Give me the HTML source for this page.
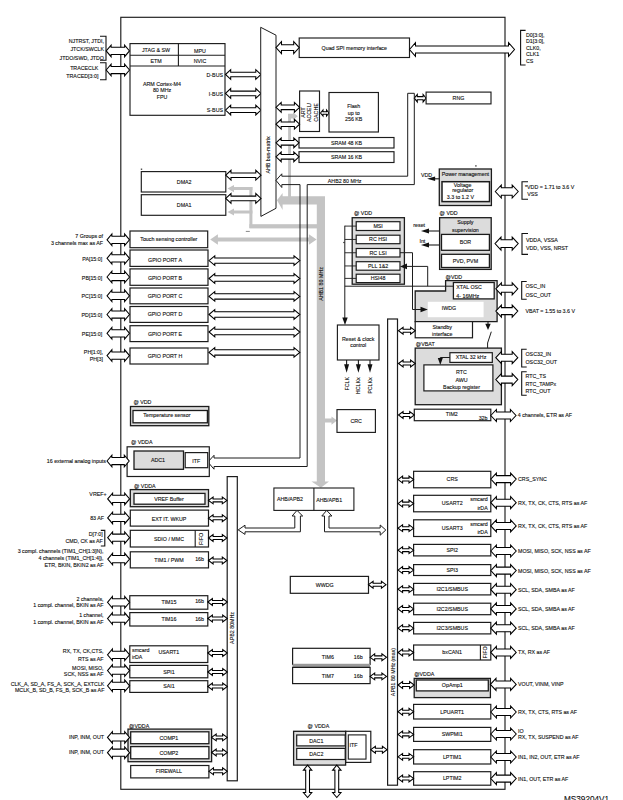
<!DOCTYPE html>
<html><head><meta charset="utf-8"><style>
html,body{margin:0;padding:0;background:#fff;width:623px;height:800px;overflow:hidden}
svg{display:block}
text{font-family:"Liberation Sans",sans-serif;stroke:#111;stroke-width:0.12px}
</style></head><body>
<svg width="623" height="800" viewBox="0 0 623 800">
<rect x="288.1" y="114" width="2.9" height="83" fill="#c4c4c4"/>
<polygon points="288.1,113.8 293,113.8 293,112.3 297.8,116.2 293,120.1 293,118.6 288.1,118.6" fill="#c4c4c4"  stroke-linejoin="miter"/>
<polygon points="277,200.3 282.6,193.1 282.6,196.3 325,196.3 325,481.6 329,481.6 320.9,487.8 311.5,481.6 316.8,481.6 316.8,204.4 282.6,204.4 282.6,210" fill="#c4c4c4"  stroke-linejoin="miter"/>
<rect x="249.4" y="187" width="3" height="41" fill="#c4c4c4"/>
<rect x="249.4" y="224.2" width="67.6" height="4.2" fill="#c4c4c4"/>
<polygon points="227.5,188.6 234,185 234,187.1 252.4,187.1 252.4,190.1 234,190.1 234,192.2" fill="#c4c4c4"  stroke-linejoin="miter"/>
<polygon points="227.5,212 234,208.4 234,210.5 252.4,210.5 252.4,213.5 234,213.5 234,215.6" fill="#c4c4c4"  stroke-linejoin="miter"/>
<polygon points="210.2,239.5 217.9,234.2 217.9,237.5 308.9,237.5 308.9,234.2 316.6,239.5 308.9,244.8 308.9,241.5 217.9,241.5 217.9,244.8" fill="#c4c4c4"  stroke-linejoin="miter"/>
<polygon points="325,418.6 331.5,418.6 331.5,416.4 337,420.6 331.5,424.8 331.5,422.6 325,422.6" fill="#c4c4c4"  stroke-linejoin="miter"/>
<rect x="120.8" y="17.3" width="384.2" height="772" fill="none" stroke="#1c1c1c" stroke-width="1.15"/>
<rect x="130" y="43.6" width="95" height="71.7" fill="#fff" stroke="#1c1c1c" stroke-width="1.15"/>
<line x1="130" y1="55.3" x2="225" y2="55.3" stroke="#1c1c1c" stroke-width="1.1"/>
<line x1="130" y1="66" x2="225" y2="66" stroke="#1c1c1c" stroke-width="1.1"/>
<line x1="178.4" y1="43.6" x2="178.4" y2="66" stroke="#1c1c1c" stroke-width="1.1"/>
<text x="156" y="51.91" text-anchor="middle" font-size="5.3" fill="#111">JTAG &amp; SW</text>
<text x="200" y="52.91" text-anchor="middle" font-size="5.3" fill="#111">MPU</text>
<text x="156" y="62.71" text-anchor="middle" font-size="5.3" fill="#111">ETM</text>
<text x="200" y="62.71" text-anchor="middle" font-size="5.3" fill="#111">NVIC</text>
<text x="162" y="85.91" text-anchor="middle" font-size="5.3" fill="#111">ARM Cortex-M4</text>
<text x="162" y="92.11" text-anchor="middle" font-size="5.3" fill="#111">80 MHz</text>
<text x="162" y="98.51" text-anchor="middle" font-size="5.3" fill="#111">FPU</text>
<text x="223" y="76.61" text-anchor="end" font-size="5.3" fill="#111">D-BUS</text>
<text x="223" y="95.81" text-anchor="end" font-size="5.3" fill="#111">I-BUS</text>
<text x="223" y="111.51" text-anchor="end" font-size="5.3" fill="#111">S-BUS</text>
<polygon points="225.5,74.5 230.7,69.6 230.7,72.2 255.8,72.2 255.8,69.6 261,74.5 255.8,79.4 255.8,76.8 230.7,76.8 230.7,79.4" fill="#fff" stroke="#000" stroke-width="1.05" stroke-linejoin="miter"/>
<polygon points="225.5,93.4 230.7,88.5 230.7,91.1 255.8,91.1 255.8,88.5 261,93.4 255.8,98.3 255.8,95.7 230.7,95.7 230.7,98.3" fill="#fff" stroke="#000" stroke-width="1.05" stroke-linejoin="miter"/>
<polygon points="225.5,110.1 230.7,105.2 230.7,107.8 255.8,107.8 255.8,105.2 261,110.1 255.8,115 255.8,112.4 230.7,112.4 230.7,115" fill="#fff" stroke="#000" stroke-width="1.05" stroke-linejoin="miter"/>
<polyline points="100,36.2 106,36.2 106,60.2 100,60.2" fill="none" stroke="#111" stroke-width="1.1" stroke-linejoin="miter"/>
<polyline points="100,62.8 106,62.8 106,79.8 100,79.8" fill="none" stroke="#111" stroke-width="1.1" stroke-linejoin="miter"/>
<text x="104" y="43.01" text-anchor="end" font-size="5.3" fill="#111">NJTRST, JTDI,</text>
<text x="104" y="51.21" text-anchor="end" font-size="5.3" fill="#111">JTCK/SWCLK</text>
<text x="104" y="59.61" text-anchor="end" font-size="5.3" fill="#111">JTDO/SWD, JTDO</text>
<text x="98.4" y="69.61" text-anchor="end" font-size="5.3" fill="#111">TRACECLK</text>
<text x="98.4" y="77.71" text-anchor="end" font-size="5.3" fill="#111">TRACED[3:0]</text>
<polygon points="106.2,50.9 111.1,45.1 111.1,47.3 124.6,47.3 124.6,45.1 129.5,50.9 124.6,56.7 124.6,54.5 111.1,54.5 111.1,56.7" fill="#fff" stroke="#000" stroke-width="1.05" stroke-linejoin="miter"/>
<polygon points="106.2,70 111.1,64.2 111.1,66.4 124.6,66.4 124.6,64.2 129.5,70 124.6,75.8 124.6,73.6 111.1,73.6 111.1,75.8" fill="#fff" stroke="#000" stroke-width="1.05" stroke-linejoin="miter"/>
<polygon points="260.7,27.3 276,35.2 276,208.3 260.9,216.4" fill="#fff" stroke="#1c1c1c" stroke-width="1" stroke-linejoin="miter"/>
<text transform="translate(268.4,155) rotate(-90)" x="0" y="1.91" text-anchor="middle" font-size="5.3" fill="#111">AHB bus-matrix</text>
<rect x="299.2" y="38" width="110.3" height="19.5" fill="#fff" stroke="#1c1c1c" stroke-width="1.15"/>
<text x="354.3" y="49.61" text-anchor="middle" font-size="5.3" fill="#111">Quad SPI memory interface</text>
<polygon points="276,47.6 281.5,41.6 281.5,44.8 293.7,44.8 293.7,41.6 299.2,47.6 293.7,53.6 293.7,50.4 281.5,50.4 281.5,53.6" fill="#fff" stroke="#000" stroke-width="1.05" stroke-linejoin="miter"/>
<polygon points="409.5,49.5 415.5,42.7 415.5,46 508.5,46 508.5,42.7 514.5,49.5 508.5,56.3 508.5,53 415.5,53 415.5,56.3" fill="#fff" stroke="#000" stroke-width="1.05" stroke-linejoin="miter"/>
<polyline points="525.6,30.4 520.6,30.4 520.6,65 525.6,65" fill="none" stroke="#111" stroke-width="1.1" stroke-linejoin="miter"/>
<text x="526" y="36.61" text-anchor="start" font-size="5.3" fill="#111">D0[3:0],</text>
<text x="526" y="42.51" text-anchor="start" font-size="5.3" fill="#111">D1[3:0],</text>
<text x="526" y="49.51" text-anchor="start" font-size="5.3" fill="#111">CLK0,</text>
<text x="526" y="55.61" text-anchor="start" font-size="5.3" fill="#111">CLK1</text>
<text x="526" y="62.71" text-anchor="start" font-size="5.3" fill="#111">CS</text>
<rect x="299.6" y="91" width="19.9" height="40.5" fill="#fff" stroke="#1c1c1c" stroke-width="1.15"/>
<text transform="translate(303.2,112.5) rotate(-90)" x="0" y="1.91" text-anchor="middle" font-size="5.3" fill="#111">ART</text>
<text transform="translate(309.5,112.5) rotate(-90)" x="0" y="1.91" text-anchor="middle" font-size="5.3" fill="#111">ACCEL/</text>
<text transform="translate(315.6,112.5) rotate(-90)" x="0" y="1.91" text-anchor="middle" font-size="5.3" fill="#111">CACHE</text>
<polygon points="276,107.3 281.2,102.4 281.2,105 294.4,105 294.4,102.4 299.6,107.3 294.4,112.2 294.4,109.6 281.2,109.6 281.2,112.2" fill="#fff" stroke="#000" stroke-width="1.05" stroke-linejoin="miter"/>
<polygon points="276,124.2 281.2,119.3 281.2,121.9 294.4,121.9 294.4,119.3 299.6,124.2 294.4,129.1 294.4,126.5 281.2,126.5 281.2,129.1" fill="#fff" stroke="#000" stroke-width="1.05" stroke-linejoin="miter"/>
<polygon points="320.5,113 323,110 323,111.7 326.5,111.7 326.5,110 329,113 326.5,116 326.5,114.3 323,114.3 323,116" fill="#fff" stroke="#000" stroke-width="1.05" stroke-linejoin="miter"/>
<rect x="329" y="92.5" width="49.4" height="39.5" fill="#fff" stroke="#1c1c1c" stroke-width="1.15"/>
<text x="353.7" y="107.91" text-anchor="middle" font-size="5.3" fill="#111">Flash</text>
<text x="353.7" y="114.71" text-anchor="middle" font-size="5.3" fill="#111">up to</text>
<text x="353.7" y="120.61" text-anchor="middle" font-size="5.3" fill="#111">256 KB</text>
<rect x="299" y="137.5" width="95" height="10.5" fill="#fff" stroke="#1c1c1c" stroke-width="1.15"/>
<text x="346.5" y="144.71" text-anchor="middle" font-size="5.3" fill="#111">SRAM 48 KB</text>
<polygon points="276,142.8 281.2,137.9 281.2,140.5 293.8,140.5 293.8,137.9 299,142.8 293.8,147.7 293.8,145.1 281.2,145.1 281.2,147.7" fill="#fff" stroke="#000" stroke-width="1.05" stroke-linejoin="miter"/>
<rect x="299" y="151.7" width="95" height="10.8" fill="#fff" stroke="#1c1c1c" stroke-width="1.15"/>
<text x="346.5" y="158.91" text-anchor="middle" font-size="5.3" fill="#111">SRAM 16 KB</text>
<polygon points="276,156.8 281.2,151.9 281.2,154.5 293.8,154.5 293.8,151.9 299,156.8 293.8,161.7 293.8,159.1 281.2,159.1 281.2,161.7" fill="#fff" stroke="#000" stroke-width="1.05" stroke-linejoin="miter"/>
<polygon points="414.3,98.2 417.3,94.5 417.3,96.6 423.1,96.6 423.1,94.5 426.1,98.2 423.1,101.9 423.1,99.8 417.3,99.8 417.3,101.9" fill="#fff" stroke="#000" stroke-width="1.05" stroke-linejoin="miter"/>
<rect x="426.1" y="92.1" width="64.9" height="11.8" fill="#fff" stroke="#1c1c1c" stroke-width="1.15"/>
<text x="458.5" y="99.91" text-anchor="middle" font-size="5.3" fill="#111">RNG</text>
<polygon points="281.8,176.2 407.7,176.2 407.7,93.3 414.3,93.3 414.3,184.6 307.2,184.6 307.2,466.5 214,466.5 214,469.2 207.9,462 214,455.3 214,458 300,458 300,184.6 281.8,184.6 281.8,187.5 276,180.4 281.8,173.8" fill="none" stroke="#1c1c1c" stroke-width="1" stroke-linejoin="miter"/>
<text x="344.6" y="182.51" text-anchor="middle" font-size="5.3" fill="#111">AHB2 80 MHz</text>
<rect x="141.3" y="171.6" width="84.5" height="20.4" fill="#fff" stroke="#1c1c1c" stroke-width="1.15"/>
<text x="184.2" y="184.01" text-anchor="middle" font-size="5.3" fill="#111">DMA2</text>
<polygon points="225.8,175.2 231,170.3 231,172.9 255.8,172.9 255.8,170.3 261,175.2 255.8,180.1 255.8,177.5 231,177.5 231,180.1" fill="#fff" stroke="#000" stroke-width="1.05" stroke-linejoin="miter"/>
<rect x="141.3" y="194.7" width="84.5" height="20.6" fill="#fff" stroke="#1c1c1c" stroke-width="1.15"/>
<text x="184.2" y="206.91" text-anchor="middle" font-size="5.3" fill="#111">DMA1</text>
<polygon points="225.8,198.4 231,193.5 231,196.1 255.8,196.1 255.8,193.5 261,198.4 255.8,203.3 255.8,200.7 231,200.7 231,203.3" fill="#fff" stroke="#000" stroke-width="1.05" stroke-linejoin="miter"/>
<rect x="439.3" y="169" width="52.1" height="36.5" fill="#dcdcdc" stroke="#1c1c1c" stroke-width="1.3"/>
<text x="465.4" y="176.41" text-anchor="middle" font-size="5.3" fill="#111">Power management</text>
<rect x="442" y="181.7" width="47.5" height="19.9" fill="#fff" stroke="#1c1c1c" stroke-width="1.5"/>
<text x="462.7" y="187.31" text-anchor="middle" font-size="5.3" fill="#111">Voltage</text>
<text x="462.7" y="192.21" text-anchor="middle" font-size="5.3" fill="#111">regulator</text>
<text x="460.4" y="199.21" text-anchor="middle" font-size="5.3" fill="#111">3.3 to 1.2 V</text>
<line x1="439.3" y1="178.8" x2="434" y2="178.8" stroke="#1c1c1c" stroke-width="1.1"/>
<polygon points="427.1,178.8 435.1,176.6 435.1,181" fill="#111"  stroke-linejoin="miter"/>
<text x="426.6" y="176.81" text-anchor="middle" font-size="5.3" fill="#111">VDD</text>
<polygon points="495.3,191.5 501.3,185 501.3,187.7 512.2,187.7 512.2,185 518.2,191.5 512.2,198 512.2,195.3 501.3,195.3 501.3,198" fill="#fff" stroke="#000" stroke-width="1.05" stroke-linejoin="miter"/>
<polyline points="528,181.8 522,181.8 522,199.3 528,199.3" fill="none" stroke="#111" stroke-width="1.1" stroke-linejoin="miter"/>
<text x="525" y="189.31" text-anchor="start" font-size="5.3" fill="#111">*VDD = 1.71 to 3.6 V</text>
<text x="527.2" y="196.11" text-anchor="start" font-size="5.3" fill="#111">VSS</text>
<text x="439.6" y="215.11" text-anchor="start" font-size="5.3" fill="#111">@ VDD</text>
<rect x="439.6" y="217.7" width="51.6" height="51.7" fill="#dcdcdc" stroke="#1c1c1c" stroke-width="1.3"/>
<text x="465.4" y="224.41" text-anchor="middle" font-size="5.3" fill="#111">Supply</text>
<text x="465.4" y="231.91" text-anchor="middle" font-size="5.3" fill="#111">supervision</text>
<rect x="441.5" y="234.4" width="47.9" height="15.9" fill="#fff" stroke="#1c1c1c" stroke-width="1.3"/>
<text x="465.4" y="244.21" text-anchor="middle" font-size="5.3" fill="#111">BOR</text>
<rect x="441.5" y="254.3" width="47.9" height="13.2" fill="#fff" stroke="#1c1c1c" stroke-width="1.3"/>
<text x="465.4" y="262.81" text-anchor="middle" font-size="5.3" fill="#111">PVD, PVM</text>
<line x1="439.6" y1="231" x2="428" y2="231" stroke="#1c1c1c" stroke-width="1.1"/>
<polygon points="421,231 429,228.4 429,233.6" fill="#111"  stroke-linejoin="miter"/>
<text x="419.2" y="227.11" text-anchor="middle" font-size="5.3" fill="#111">reset</text>
<line x1="439.6" y1="245" x2="428" y2="245" stroke="#1c1c1c" stroke-width="1.1"/>
<polygon points="421,245 429,242.4 429,247.6" fill="#111"  stroke-linejoin="miter"/>
<text x="422.4" y="242.91" text-anchor="middle" font-size="5.3" fill="#111">Int</text>
<polygon points="495,243.6 501,237.1 501,239.8 512.2,239.8 512.2,237.1 518.2,243.6 512.2,250.1 512.2,247.4 501,247.4 501,250.1" fill="#fff" stroke="#000" stroke-width="1.05" stroke-linejoin="miter"/>
<polyline points="528,233.5 522,233.5 522,254.4 528,254.4" fill="none" stroke="#111" stroke-width="1.1" stroke-linejoin="miter"/>
<text x="526" y="242.11" text-anchor="start" font-size="5.3" fill="#111">VDDA, VSSA</text>
<text x="526" y="249.51" text-anchor="start" font-size="5.3" fill="#111">VDD, VSS, NRST</text>
<text x="354" y="215.11" text-anchor="start" font-size="5.3" fill="#111">@ VDD</text>
<rect x="352.2" y="217.7" width="52.2" height="66.5" fill="#dcdcdc" stroke="#1c1c1c" stroke-width="1.3"/>
<rect x="356.2" y="221.7" width="43.8" height="8.8" fill="#fff" stroke="#1c1c1c" stroke-width="1.2"/>
<text x="378.1" y="228.01" text-anchor="middle" font-size="5.3" fill="#111">MSI</text>
<line x1="344.8" y1="226.1" x2="356.2" y2="226.1" stroke="#1c1c1c" stroke-width="0.9"/>
<rect x="356.2" y="235.2" width="43.8" height="8.5" fill="#fff" stroke="#1c1c1c" stroke-width="1.2"/>
<text x="378.1" y="241.36" text-anchor="middle" font-size="5.3" fill="#111">RC HSI</text>
<line x1="344.8" y1="239.45" x2="356.2" y2="239.45" stroke="#1c1c1c" stroke-width="0.9"/>
<rect x="356.2" y="248.5" width="43.8" height="8.5" fill="#fff" stroke="#1c1c1c" stroke-width="1.2"/>
<text x="378.1" y="254.66" text-anchor="middle" font-size="5.3" fill="#111">RC LSI</text>
<line x1="344.8" y1="252.75" x2="356.2" y2="252.75" stroke="#1c1c1c" stroke-width="0.9"/>
<rect x="356.2" y="261.7" width="43.8" height="8.5" fill="#fff" stroke="#1c1c1c" stroke-width="1.2"/>
<text x="378.1" y="267.86" text-anchor="middle" font-size="5.3" fill="#111">PLL 1&amp;2</text>
<line x1="344.8" y1="265.95" x2="356.2" y2="265.95" stroke="#1c1c1c" stroke-width="0.9"/>
<rect x="356.2" y="274.2" width="43.8" height="8.4" fill="#fff" stroke="#1c1c1c" stroke-width="1.2"/>
<text x="378.1" y="280.31" text-anchor="middle" font-size="5.3" fill="#111">HSI48</text>
<line x1="344.8" y1="278.4" x2="356.2" y2="278.4" stroke="#1c1c1c" stroke-width="0.9"/>
<text x="445.5" y="278.91" text-anchor="start" font-size="5.3" fill="#111">@VDD</text>
<polygon points="445.6,280.6 497.1,280.6 497.1,321.6 415.2,321.6 415.2,291 445.6,291" fill="#dcdcdc" stroke="#1c1c1c" stroke-width="1.3" stroke-linejoin="miter"/>
<rect x="453.4" y="282.5" width="40.8" height="16.4" fill="#fff" stroke="#1c1c1c" stroke-width="1.3"/>
<text x="456.3" y="288.91" text-anchor="start" font-size="5.3" fill="#111">XTAL OSC</text>
<text x="456.3" y="297.51" text-anchor="start" font-size="5.3" fill="#111">4- 16MHz</text>
<rect x="427.8" y="301.8" width="55.8" height="15.4" fill="#fff"/>
<text x="449" y="309.51" text-anchor="middle" font-size="5.3" fill="#111">IWDG</text>
<line x1="344.8" y1="225.7" x2="344.8" y2="319" stroke="#1c1c1c" stroke-width="1"/>
<polygon points="345,325 342.3,317.5 347.7,317.5" fill="#111"  stroke-linejoin="miter"/>
<line x1="344.8" y1="286.2" x2="453.4" y2="286.2" stroke="#1c1c1c" stroke-width="1"/>
<polyline points="400,252.7 412.5,252.7 412.5,309.5 421,309.5" fill="none" stroke="#1c1c1c" stroke-width="1" stroke-linejoin="miter"/>
<polygon points="427.8,309.5 420.5,306.8 420.5,312.2" fill="#111"  stroke-linejoin="miter"/>
<polyline points="405,266.4 427.7,266.4 427.7,286.2" fill="none" stroke="#1c1c1c" stroke-width="1" stroke-linejoin="miter"/>
<polygon points="400,266.4 407,263.6 407,269.2" fill="#111"  stroke-linejoin="miter"/>
<polygon points="495.8,288.8 501.4,282.8 501.4,285.3 512.2,285.3 512.2,282.8 517.8,288.8 512.2,294.8 512.2,292.3 501.4,292.3 501.4,294.8" fill="#fff" stroke="#000" stroke-width="1.05" stroke-linejoin="miter"/>
<polyline points="526.7,281.5 521.7,281.5 521.7,299.2 526.7,299.2" fill="none" stroke="#111" stroke-width="1.1" stroke-linejoin="miter"/>
<text x="525.5" y="287.91" text-anchor="start" font-size="5.3" fill="#111">OSC_IN</text>
<text x="525.5" y="296.91" text-anchor="start" font-size="5.3" fill="#111">OSC_OUT</text>
<polygon points="495.8,311.1 501.4,305.1 501.4,307.6 512.2,307.6 512.2,305.1 517.8,311.1 512.2,317.1 512.2,314.6 501.4,314.6 501.4,317.1" fill="#fff" stroke="#000" stroke-width="1.05" stroke-linejoin="miter"/>
<text x="525.5" y="313.01" text-anchor="start" font-size="5.3" fill="#111">VBAT = 1.55 to 3.6 V</text>
<rect x="415.2" y="321.6" width="57.3" height="16.2" fill="#fff" stroke="#1c1c1c" stroke-width="1.2"/>
<text x="442.2" y="328.71" text-anchor="middle" font-size="5.3" fill="#111">Standby</text>
<text x="442.2" y="336.41" text-anchor="middle" font-size="5.3" fill="#111">interface</text>
<polygon points="398.5,330.7 403.1,327.3 403.1,329.25 410.6,329.25 410.6,327.3 415.2,330.7 410.6,334.1 410.6,332.15 403.1,332.15 403.1,334.1" fill="#fff" stroke="#000" stroke-width="1.05" stroke-linejoin="miter"/>
<line x1="488" y1="321.6" x2="488" y2="325" stroke="#1c1c1c" stroke-width="1.1"/>
<polygon points="488,330 485.3,323.8 490.7,323.8" fill="#111"  stroke-linejoin="miter"/>
<line x1="491.3" y1="331.7" x2="487.6" y2="343" stroke="#1c1c1c" stroke-width="1"/>
<line x1="487.6" y1="343" x2="487.6" y2="348.1" stroke="#1c1c1c" stroke-width="1"/>
<text x="415.8" y="345.51" text-anchor="start" font-size="5.3" fill="#111">@VBAT</text>
<rect x="415.2" y="348.1" width="86.2" height="56.6" fill="#dcdcdc" stroke="#1c1c1c" stroke-width="1.3"/>
<rect x="449.9" y="352.7" width="42.4" height="9.7" fill="#fff" stroke="#1c1c1c" stroke-width="1.2"/>
<text x="471" y="359.41" text-anchor="middle" font-size="5.3" fill="#111">XTAL 32 kHz</text>
<polyline points="449.9,357.5 440.3,357.5 440.3,359" fill="none" stroke="#1c1c1c" stroke-width="1" stroke-linejoin="miter"/>
<polygon points="440.3,365 437.8,358 442.8,358" fill="#111"  stroke-linejoin="miter"/>
<rect x="423.9" y="364.9" width="69" height="26" fill="#fff" stroke="#1c1c1c" stroke-width="1.2"/>
<text x="461.5" y="373.51" text-anchor="middle" font-size="5.3" fill="#111">RTC</text>
<text x="461.5" y="381.61" text-anchor="middle" font-size="5.3" fill="#111">AWU</text>
<text x="461.5" y="388.51" text-anchor="middle" font-size="5.3" fill="#111">Backup register</text>
<polygon points="398.5,363.5 403.1,360.1 403.1,362.05 410.6,362.05 410.6,360.1 415.2,363.5 410.6,366.9 410.6,364.95 403.1,364.95 403.1,366.9" fill="#fff" stroke="#000" stroke-width="1.05" stroke-linejoin="miter"/>
<polygon points="495.8,357.7 501.4,351.7 501.4,354.2 512.2,354.2 512.2,351.7 517.8,357.7 512.2,363.7 512.2,361.2 501.4,361.2 501.4,363.7" fill="#fff" stroke="#000" stroke-width="1.05" stroke-linejoin="miter"/>
<polyline points="526.7,349.3 521.7,349.3 521.7,367 526.7,367" fill="none" stroke="#111" stroke-width="1.1" stroke-linejoin="miter"/>
<text x="525.5" y="355.81" text-anchor="start" font-size="5.3" fill="#111">OSC32_IN</text>
<text x="525.5" y="364.41" text-anchor="start" font-size="5.3" fill="#111">OSC32_OUT</text>
<polygon points="495.8,379.6 501.4,373.6 501.4,376.1 512.2,376.1 512.2,373.6 517.8,379.6 512.2,385.6 512.2,383.1 501.4,383.1 501.4,385.6" fill="#fff" stroke="#000" stroke-width="1.05" stroke-linejoin="miter"/>
<polyline points="526.7,371.7 521.7,371.7 521.7,395.3 526.7,395.3" fill="none" stroke="#111" stroke-width="1.1" stroke-linejoin="miter"/>
<text x="525.5" y="377.71" text-anchor="start" font-size="5.3" fill="#111">RTC_TS</text>
<text x="525.5" y="385.71" text-anchor="start" font-size="5.3" fill="#111">RTC_TAMPx</text>
<text x="525.5" y="393.41" text-anchor="start" font-size="5.3" fill="#111">RTC_OUT</text>
<rect x="414.3" y="409.2" width="76.5" height="11.5" fill="#fff" stroke="#1c1c1c" stroke-width="1.2"/>
<text x="451.8" y="415.91" text-anchor="middle" font-size="5.3" fill="#111">TIM2</text>
<text x="487.5" y="419.81" text-anchor="end" font-size="5.3" fill="#111">32b</text>
<polygon points="398.5,415 403.1,411.6 403.1,413.55 409.7,413.55 409.7,411.6 414.3,415 409.7,418.4 409.7,416.45 403.1,416.45 403.1,418.4" fill="#fff" stroke="#000" stroke-width="1.05" stroke-linejoin="miter"/>
<polygon points="490.8,415.5 496.4,409.5 496.4,412 510.4,412 510.4,409.5 516,415.5 510.4,421.5 510.4,419 496.4,419 496.4,421.5" fill="#fff" stroke="#000" stroke-width="1.05" stroke-linejoin="miter"/>
<text x="517.8" y="417.41" text-anchor="start" font-size="5.3" fill="#111">4 channels, ETR as AF</text>
<rect x="337.4" y="325" width="41.6" height="35" fill="#fff" stroke="#1c1c1c" stroke-width="1.15"/>
<text x="358.2" y="340.91" text-anchor="middle" font-size="5.3" fill="#111">Reset &amp; clock</text>
<text x="358.2" y="346.91" text-anchor="middle" font-size="5.3" fill="#111">control</text>
<line x1="346.6" y1="360" x2="346.6" y2="365" stroke="#1c1c1c" stroke-width="1.1"/>
<polygon points="346.6,372.8 344.1,364.3 349.1,364.3" fill="#111"  stroke-linejoin="miter"/>
<text transform="translate(346.6,383.8) rotate(-90)" x="0" y="1.91" text-anchor="middle" font-size="5.3" fill="#111">FCLK</text>
<line x1="358.4" y1="360" x2="358.4" y2="365" stroke="#1c1c1c" stroke-width="1.1"/>
<polygon points="358.4,372.8 355.9,364.3 360.9,364.3" fill="#111"  stroke-linejoin="miter"/>
<text transform="translate(358.4,385.8) rotate(-90)" x="0" y="1.91" text-anchor="middle" font-size="5.3" fill="#111">HCLKx</text>
<line x1="370" y1="360" x2="370" y2="365" stroke="#1c1c1c" stroke-width="1.1"/>
<polygon points="370,372.8 367.5,364.3 372.5,364.3" fill="#111"  stroke-linejoin="miter"/>
<text transform="translate(370,385.5) rotate(-90)" x="0" y="1.91" text-anchor="middle" font-size="5.3" fill="#111">PCLKx</text>
<rect x="337" y="409.6" width="38.4" height="22.8" fill="#fff" stroke="#1c1c1c" stroke-width="1.15"/>
<text x="356.2" y="422.91" text-anchor="middle" font-size="5.3" fill="#111">CRC</text>
<text transform="translate(321,284) rotate(-90)" x="0" y="1.91" text-anchor="middle" font-size="5.3" fill="#111">AHB1 80 MHz</text>
<rect x="387.6" y="319" width="9.9" height="466.2" fill="#fff" stroke="#1c1c1c" stroke-width="1.2"/>
<text transform="translate(392.7,672) rotate(-90)" x="0" y="1.91" text-anchor="middle" font-size="5.3" fill="#111">APB1 80 MHz (max)</text>
<rect x="413.6" y="471.3" width="77.2" height="16.5" fill="#fff" stroke="#1c1c1c" stroke-width="1.2"/>
<text x="452.2" y="481.46" text-anchor="middle" font-size="5.3" fill="#111">CRS</text>
<polygon points="398,479.55 402.6,476.15 402.6,478.1 409,478.1 409,476.15 413.6,479.55 409,482.95 409,481 402.6,481 402.6,482.95" fill="#fff" stroke="#000" stroke-width="1.05" stroke-linejoin="miter"/>
<polygon points="490.8,479.1 496.4,473.1 496.4,475.6 510.6,475.6 510.6,473.1 516.2,479.1 510.6,485.1 510.6,482.6 496.4,482.6 496.4,485.1" fill="#fff" stroke="#000" stroke-width="1.05" stroke-linejoin="miter"/>
<text x="518" y="481.01" text-anchor="start" font-size="5.3" fill="#111">CRS_SYNC</text>
<rect x="413.6" y="495.3" width="77.2" height="16.5" fill="#fff" stroke="#1c1c1c" stroke-width="1.2"/>
<text x="452.2" y="505.46" text-anchor="middle" font-size="5.3" fill="#111">USART2</text>
<text x="487.7" y="501.21" text-anchor="end" font-size="5.3" fill="#111">smcard</text>
<text x="487.7" y="509.71" text-anchor="end" font-size="5.3" fill="#111">irDA</text>
<polygon points="398,503.55 402.6,500.15 402.6,502.1 409,502.1 409,500.15 413.6,503.55 409,506.95 409,505 402.6,505 402.6,506.95" fill="#fff" stroke="#000" stroke-width="1.05" stroke-linejoin="miter"/>
<polygon points="490.8,502.7 496.4,496.7 496.4,499.2 510.6,499.2 510.6,496.7 516.2,502.7 510.6,508.7 510.6,506.2 496.4,506.2 496.4,508.7" fill="#fff" stroke="#000" stroke-width="1.05" stroke-linejoin="miter"/>
<text x="518" y="504.61" text-anchor="start" font-size="5.3" fill="#111">RX, TX, CK, CTS, RTS as AF</text>
<rect x="413.6" y="519.8" width="77.2" height="16.7" fill="#fff" stroke="#1c1c1c" stroke-width="1.2"/>
<text x="452.2" y="530.06" text-anchor="middle" font-size="5.3" fill="#111">USART3</text>
<text x="487.7" y="525.71" text-anchor="end" font-size="5.3" fill="#111">smcard</text>
<text x="487.7" y="534.41" text-anchor="end" font-size="5.3" fill="#111">irDA</text>
<polygon points="398,528.15 402.6,524.75 402.6,526.7 409,526.7 409,524.75 413.6,528.15 409,531.55 409,529.6 402.6,529.6 402.6,531.55" fill="#fff" stroke="#000" stroke-width="1.05" stroke-linejoin="miter"/>
<polygon points="490.8,525.9 496.4,519.9 496.4,522.4 510.6,522.4 510.6,519.9 516.2,525.9 510.6,531.9 510.6,529.4 496.4,529.4 496.4,531.9" fill="#fff" stroke="#000" stroke-width="1.05" stroke-linejoin="miter"/>
<text x="518" y="527.81" text-anchor="start" font-size="5.3" fill="#111">RX, TX, CK, CTS, RTS as AF</text>
<rect x="413.6" y="544.4" width="77.2" height="11.5" fill="#fff" stroke="#1c1c1c" stroke-width="1.2"/>
<text x="452.2" y="552.06" text-anchor="middle" font-size="5.3" fill="#111">SPI2</text>
<polygon points="398,550.15 402.6,546.75 402.6,548.7 409,548.7 409,546.75 413.6,550.15 409,553.55 409,551.6 402.6,551.6 402.6,553.55" fill="#fff" stroke="#000" stroke-width="1.05" stroke-linejoin="miter"/>
<polygon points="490.8,551 496.4,545 496.4,547.5 510.6,547.5 510.6,545 516.2,551 510.6,557 510.6,554.5 496.4,554.5 496.4,557" fill="#fff" stroke="#000" stroke-width="1.05" stroke-linejoin="miter"/>
<text x="518" y="552.91" text-anchor="start" font-size="5.3" fill="#111">MOSI, MISO, SCK, NSS as AF</text>
<rect x="413.6" y="564.6" width="77.2" height="10.9" fill="#fff" stroke="#1c1c1c" stroke-width="1.2"/>
<text x="452.2" y="571.96" text-anchor="middle" font-size="5.3" fill="#111">SPI3</text>
<polygon points="398,570.05 402.6,566.65 402.6,568.6 409,568.6 409,566.65 413.6,570.05 409,573.45 409,571.5 402.6,571.5 402.6,573.45" fill="#fff" stroke="#000" stroke-width="1.05" stroke-linejoin="miter"/>
<polygon points="490.8,570.6 496.4,564.6 496.4,567.1 510.6,567.1 510.6,564.6 516.2,570.6 510.6,576.6 510.6,574.1 496.4,574.1 496.4,576.6" fill="#fff" stroke="#000" stroke-width="1.05" stroke-linejoin="miter"/>
<text x="518" y="572.51" text-anchor="start" font-size="5.3" fill="#111">MOSI, MISO, SCK, NSS as AF</text>
<rect x="413.6" y="583.4" width="77.2" height="11.5" fill="#fff" stroke="#1c1c1c" stroke-width="1.2"/>
<text x="452.2" y="591.06" text-anchor="middle" font-size="5.3" fill="#111">I2C1/SMBUS</text>
<polygon points="398,589.15 402.6,585.75 402.6,587.7 409,587.7 409,585.75 413.6,589.15 409,592.55 409,590.6 402.6,590.6 402.6,592.55" fill="#fff" stroke="#000" stroke-width="1.05" stroke-linejoin="miter"/>
<polygon points="490.8,589.7 496.4,583.7 496.4,586.2 510.6,586.2 510.6,583.7 516.2,589.7 510.6,595.7 510.6,593.2 496.4,593.2 496.4,595.7" fill="#fff" stroke="#000" stroke-width="1.05" stroke-linejoin="miter"/>
<text x="518" y="591.61" text-anchor="start" font-size="5.3" fill="#111">SCL, SDA, SMBA as AF</text>
<rect x="413.6" y="603.2" width="77.2" height="11.5" fill="#fff" stroke="#1c1c1c" stroke-width="1.2"/>
<text x="452.2" y="610.86" text-anchor="middle" font-size="5.3" fill="#111">I2C2/SMBUS</text>
<polygon points="398,608.95 402.6,605.55 402.6,607.5 409,607.5 409,605.55 413.6,608.95 409,612.35 409,610.4 402.6,610.4 402.6,612.35" fill="#fff" stroke="#000" stroke-width="1.05" stroke-linejoin="miter"/>
<polygon points="490.8,608.9 496.4,602.9 496.4,605.4 510.6,605.4 510.6,602.9 516.2,608.9 510.6,614.9 510.6,612.4 496.4,612.4 496.4,614.9" fill="#fff" stroke="#000" stroke-width="1.05" stroke-linejoin="miter"/>
<text x="518" y="610.81" text-anchor="start" font-size="5.3" fill="#111">SCL, SDA, SMBA as AF</text>
<rect x="413.6" y="622.4" width="77.2" height="11.5" fill="#fff" stroke="#1c1c1c" stroke-width="1.2"/>
<text x="452.2" y="630.06" text-anchor="middle" font-size="5.3" fill="#111">I2C3/SMBUS</text>
<polygon points="398,628.15 402.6,624.75 402.6,626.7 409,626.7 409,624.75 413.6,628.15 409,631.55 409,629.6 402.6,629.6 402.6,631.55" fill="#fff" stroke="#000" stroke-width="1.05" stroke-linejoin="miter"/>
<polygon points="490.8,628.2 496.4,622.2 496.4,624.7 510.6,624.7 510.6,622.2 516.2,628.2 510.6,634.2 510.6,631.7 496.4,631.7 496.4,634.2" fill="#fff" stroke="#000" stroke-width="1.05" stroke-linejoin="miter"/>
<text x="518" y="630.11" text-anchor="start" font-size="5.3" fill="#111">SCL, SDA, SMBA as AF</text>
<rect x="413.6" y="645" width="77.2" height="15" fill="#fff" stroke="#1c1c1c" stroke-width="1.2"/>
<text x="452.2" y="654.41" text-anchor="middle" font-size="5.3" fill="#111">bxCAN1</text>
<line x1="480.4" y1="645" x2="480.4" y2="660" stroke="#1c1c1c" stroke-width="1.1"/>
<text transform="translate(485.5,652.5) rotate(-90)" x="0" y="1.91" text-anchor="middle" font-size="5.3" fill="#111">FIFO</text>
<polygon points="398,652.5 402.6,649.1 402.6,651.05 409,651.05 409,649.1 413.6,652.5 409,655.9 409,653.95 402.6,653.95 402.6,655.9" fill="#fff" stroke="#000" stroke-width="1.05" stroke-linejoin="miter"/>
<polygon points="490.8,652.4 496.4,646.4 496.4,648.9 510.6,648.9 510.6,646.4 516.2,652.4 510.6,658.4 510.6,655.9 496.4,655.9 496.4,658.4" fill="#fff" stroke="#000" stroke-width="1.05" stroke-linejoin="miter"/>
<text x="518" y="654.31" text-anchor="start" font-size="5.3" fill="#111">TX, RX as AF</text>
<rect x="413.6" y="704.4" width="77.2" height="14.6" fill="#fff" stroke="#1c1c1c" stroke-width="1.2"/>
<text x="452.2" y="713.61" text-anchor="middle" font-size="5.3" fill="#111">LPUART1</text>
<polygon points="398,711.7 402.6,708.3 402.6,710.25 409,710.25 409,708.3 413.6,711.7 409,715.1 409,713.15 402.6,713.15 402.6,715.1" fill="#fff" stroke="#000" stroke-width="1.05" stroke-linejoin="miter"/>
<polygon points="490.8,712 496.4,706 496.4,708.5 510.6,708.5 510.6,706 516.2,712 510.6,718 510.6,715.5 496.4,715.5 496.4,718" fill="#fff" stroke="#000" stroke-width="1.05" stroke-linejoin="miter"/>
<text x="518" y="713.91" text-anchor="start" font-size="5.3" fill="#111">RX, TX, CTS, RTS as AF</text>
<rect x="413.6" y="727.4" width="77.2" height="14" fill="#fff" stroke="#1c1c1c" stroke-width="1.2"/>
<text x="452.2" y="736.31" text-anchor="middle" font-size="5.3" fill="#111">SWPMI1</text>
<polygon points="398,734.4 402.6,731 402.6,732.95 409,732.95 409,731 413.6,734.4 409,737.8 409,735.85 402.6,735.85 402.6,737.8" fill="#fff" stroke="#000" stroke-width="1.05" stroke-linejoin="miter"/>
<polygon points="490.8,734 496.4,728 496.4,730.5 510.6,730.5 510.6,728 516.2,734 510.6,740 510.6,737.5 496.4,737.5 496.4,740" fill="#fff" stroke="#000" stroke-width="1.05" stroke-linejoin="miter"/>
<rect x="413.6" y="749.7" width="77.2" height="14.3" fill="#fff" stroke="#1c1c1c" stroke-width="1.2"/>
<text x="452.2" y="758.76" text-anchor="middle" font-size="5.3" fill="#111">LPTIM1</text>
<polygon points="398,756.85 402.6,753.45 402.6,755.4 409,755.4 409,753.45 413.6,756.85 409,760.25 409,758.3 402.6,758.3 402.6,760.25" fill="#fff" stroke="#000" stroke-width="1.05" stroke-linejoin="miter"/>
<polygon points="490.8,757 496.4,751 496.4,753.5 510.6,753.5 510.6,751 516.2,757 510.6,763 510.6,760.5 496.4,760.5 496.4,763" fill="#fff" stroke="#000" stroke-width="1.05" stroke-linejoin="miter"/>
<text x="518" y="758.91" text-anchor="start" font-size="5.3" fill="#111">IN1, IN2, OUT, ETR as AF</text>
<rect x="413.6" y="771.7" width="77.2" height="13.5" fill="#fff" stroke="#1c1c1c" stroke-width="1.2"/>
<text x="452.2" y="780.36" text-anchor="middle" font-size="5.3" fill="#111">LPTIM2</text>
<polygon points="398,778.45 402.6,775.05 402.6,777 409,777 409,775.05 413.6,778.45 409,781.85 409,779.9 402.6,779.9 402.6,781.85" fill="#fff" stroke="#000" stroke-width="1.05" stroke-linejoin="miter"/>
<polygon points="490.8,778.6 496.4,772.6 496.4,775.1 510.6,775.1 510.6,772.6 516.2,778.6 510.6,784.6 510.6,782.1 496.4,782.1 496.4,784.6" fill="#fff" stroke="#000" stroke-width="1.05" stroke-linejoin="miter"/>
<text x="518" y="780.51" text-anchor="start" font-size="5.3" fill="#111">IN1, OUT, ETR as AF</text>
<text x="518" y="732.91" text-anchor="start" font-size="5.3" fill="#111">IO</text>
<text x="518" y="739.31" text-anchor="start" font-size="5.3" fill="#111">RX, TX, SUSPEND as AF</text>
<text x="414.2" y="676.41" text-anchor="start" font-size="5.3" fill="#111">@VDDA</text>
<rect x="414.2" y="678.4" width="76.2" height="19.2" fill="#dcdcdc" stroke="#1c1c1c" stroke-width="1.3"/>
<rect x="416.3" y="680" width="72" height="10.9" fill="#fff" stroke="#1c1c1c" stroke-width="1.3"/>
<text x="452.3" y="687.31" text-anchor="middle" font-size="5.3" fill="#111">OpAmp1</text>
<polygon points="398,685 402.6,681.6 402.6,683.55 409.6,683.55 409.6,681.6 414.2,685 409.6,688.4 409.6,686.45 402.6,686.45 402.6,688.4" fill="#fff" stroke="#000" stroke-width="1.05" stroke-linejoin="miter"/>
<polygon points="490.4,684.4 496,678.4 496,680.9 510.6,680.9 510.6,678.4 516.2,684.4 510.6,690.4 510.6,687.9 496,687.9 496,690.4" fill="#fff" stroke="#000" stroke-width="1.05" stroke-linejoin="miter"/>
<text x="518" y="686.31" text-anchor="start" font-size="5.3" fill="#111">VOUT, VINM, VINP</text>
<rect x="290.3" y="576.4" width="78.2" height="16.9" fill="#fff" stroke="#1c1c1c" stroke-width="1.2"/>
<text x="324.7" y="586.71" text-anchor="middle" font-size="5.3" fill="#111">WWDG</text>
<polygon points="368.5,584.7 373.1,581.3 373.1,583.25 381.4,583.25 381.4,581.3 386,584.7 381.4,588.1 381.4,586.15 373.1,586.15 373.1,588.1" fill="#fff" stroke="#000" stroke-width="1.05" stroke-linejoin="miter"/>
<rect x="292.6" y="648.3" width="77.5" height="16.2" fill="#fff" stroke="#1c1c1c" stroke-width="1.2"/>
<text x="327.9" y="658.91" text-anchor="middle" font-size="5.3" fill="#111">TIM6</text>
<text x="358.2" y="658.91" text-anchor="middle" font-size="5.3" fill="#111">16b</text>
<polygon points="370.1,657.3 374.7,653.9 374.7,655.85 381.9,655.85 381.9,653.9 386.5,657.3 381.9,660.7 381.9,658.75 374.7,658.75 374.7,660.7" fill="#fff" stroke="#000" stroke-width="1.05" stroke-linejoin="miter"/>
<rect x="292.6" y="664" width="77.5" height="3.6" fill="#9a9a9a"/>
<rect x="292.6" y="667.4" width="77.5" height="16.2" fill="#fff" stroke="#1c1c1c" stroke-width="1.2"/>
<text x="327.9" y="677.91" text-anchor="middle" font-size="5.3" fill="#111">TIM7</text>
<text x="358.2" y="677.91" text-anchor="middle" font-size="5.3" fill="#111">16b</text>
<polygon points="370.1,676.4 374.7,673 374.7,674.95 381.9,674.95 381.9,673 386.5,676.4 381.9,679.8 381.9,677.85 374.7,677.85 374.7,679.8" fill="#fff" stroke="#000" stroke-width="1.05" stroke-linejoin="miter"/>
<text x="307.6" y="728.41" text-anchor="start" font-size="5.3" fill="#111">@ VDDA</text>
<rect x="345.6" y="731.3" width="25.2" height="31.1" fill="#fff" stroke="#1c1c1c" stroke-width="1.2"/>
<rect x="348.3" y="734.9" width="17.7" height="24.2" fill="#fff" stroke="#1c1c1c" stroke-width="1.1"/>
<text x="353.5" y="746.81" text-anchor="middle" font-size="5.3" fill="#111">ITF</text>
<rect x="293.6" y="731.3" width="52" height="33.8" fill="#dcdcdc" stroke="#1c1c1c" stroke-width="1.3"/>
<rect x="296.7" y="735" width="48.5" height="10.9" fill="#fff" stroke="#1c1c1c" stroke-width="1.2"/>
<text x="316.3" y="743.01" text-anchor="middle" font-size="5.3" fill="#111">DAC1</text>
<rect x="296.7" y="748.4" width="48.5" height="11.1" fill="#fff" stroke="#1c1c1c" stroke-width="1.2"/>
<text x="316.3" y="756.21" text-anchor="middle" font-size="5.3" fill="#111">DAC2</text>
<polygon points="370.8,749.7 375.4,746.3 375.4,748.25 382.4,748.25 382.4,746.3 387,749.7 382.4,753.1 382.4,751.15 375.4,751.15 375.4,753.1" fill="#fff" stroke="#000" stroke-width="1.05" stroke-linejoin="miter"/>
<polygon points="307.6,765.1 311.8,770.1 309.5,770.1 309.5,792.5 311.8,792.5 307.6,797.5 303.4,792.5 305.7,792.5 305.7,770.1 303.4,770.1" fill="#fff" stroke="#000" stroke-width="1.05" stroke-linejoin="miter"/>
<polygon points="336.8,765.1 341,770.1 338.7,770.1 338.7,792.5 341,792.5 336.8,797.5 332.6,792.5 334.9,792.5 334.9,770.1 332.6,770.1" fill="#fff" stroke="#000" stroke-width="1.05" stroke-linejoin="miter"/>
<rect x="273.9" y="488" width="80" height="22.4" fill="#fff" stroke="#1c1c1c" stroke-width="1.1"/>
<line x1="313.9" y1="488" x2="313.9" y2="510.4" stroke="#1c1c1c" stroke-width="1.1"/>
<text x="277" y="500.81" text-anchor="start" font-size="5.3" fill="#111">AHB/APB2</text>
<text x="316.2" y="502.11" text-anchor="start" font-size="5.3" fill="#111">AHB/APB1</text>
<polygon points="297,510.4 302.7,516 300.4,516 300.4,531.8 245,531.8 245,534.4 238.2,529.9 245,525.2 245,528 294.8,528 294.8,516 292.1,516" fill="#fff" stroke="#1c1c1c" stroke-width="1" stroke-linejoin="miter"/>
<polygon points="326.7,510.4 331.9,516 329,516 329,528 380.2,528 380.2,525 385.8,530 380.2,535.2 380.2,531.8 324.5,531.8 324.5,516 321.8,516" fill="#fff" stroke="#1c1c1c" stroke-width="1" stroke-linejoin="miter"/>
<rect x="227.2" y="476.6" width="10.1" height="304.2" fill="#fff" stroke="#1c1c1c" stroke-width="1.2"/>
<text transform="translate(232,628) rotate(-90)" x="0" y="1.91" text-anchor="middle" font-size="5.3" fill="#111">APB2 80MHz</text>
<text x="133.4" y="404.41" text-anchor="start" font-size="5.3" fill="#111">@ VDD</text>
<rect x="130.5" y="406.5" width="78.3" height="19.2" fill="#dcdcdc" stroke="#1c1c1c" stroke-width="1.3"/>
<rect x="133" y="410.5" width="74.4" height="12.3" fill="#fff" stroke="#1c1c1c" stroke-width="1.3"/>
<text x="166.9" y="417.31" text-anchor="middle" font-size="5.3" fill="#111">Temperature sensor</text>
<text x="130.9" y="444.11" text-anchor="start" font-size="5.3" fill="#111">@ VDDA</text>
<rect x="127.1" y="446.8" width="82.2" height="29.7" fill="#fff" stroke="#1c1c1c" stroke-width="1.2"/>
<rect x="134" y="451" width="49.5" height="18.3" fill="#dcdcdc" stroke="#1c1c1c" stroke-width="1.3"/>
<text x="158" y="461.91" text-anchor="middle" font-size="5.3" fill="#111">ADC1</text>
<rect x="185.2" y="452.6" width="22.5" height="15.1" fill="#fff" stroke="#1c1c1c" stroke-width="1.2"/>
<text x="196.2" y="462.91" text-anchor="middle" font-size="5.3" fill="#111">ITF</text>
<polygon points="107,461 111.9,455.2 111.9,457.4 124.3,457.4 124.3,455.2 129.2,461 124.3,466.8 124.3,464.6 111.9,464.6 111.9,466.8" fill="#fff" stroke="#000" stroke-width="1.05" stroke-linejoin="miter"/>
<text x="106" y="463.41" text-anchor="end" font-size="5.3" fill="#111">16 external analog inputs</text>
<text x="134" y="487.81" text-anchor="start" font-size="5.3" fill="#111">@ VDDA</text>
<rect x="130.3" y="489.6" width="78.2" height="17.1" fill="#dcdcdc" stroke="#1c1c1c" stroke-width="1.3"/>
<rect x="134" y="493.4" width="71" height="10.8" fill="#fff" stroke="#1c1c1c" stroke-width="1.3"/>
<text x="169" y="500.51" text-anchor="middle" font-size="5.3" fill="#111">VREF Buffer</text>
<polygon points="208.5,500.4 213.1,497 213.1,498.95 222.3,498.95 222.3,497 226.9,500.4 222.3,503.8 222.3,501.85 213.1,501.85 213.1,503.8" fill="#fff" stroke="#000" stroke-width="1.05" stroke-linejoin="miter"/>
<polygon points="107.7,498.9 112.6,493.1 112.6,495.3 124.7,495.3 124.7,493.1 129.6,498.9 124.7,504.7 124.7,502.5 112.6,502.5 112.6,504.7" fill="#fff" stroke="#000" stroke-width="1.05" stroke-linejoin="miter"/>
<text x="106.6" y="496.01" text-anchor="end" font-size="5.3" fill="#111">VREF+</text>
<rect x="130.3" y="510.1" width="78.2" height="16" fill="#fff" stroke="#1c1c1c" stroke-width="1.2"/>
<text x="169" y="520.51" text-anchor="middle" font-size="5.3" fill="#111">EXT IT. WKUP</text>
<polygon points="208.5,518.2 213.1,514.8 213.1,516.75 222.3,516.75 222.3,514.8 226.9,518.2 222.3,521.6 222.3,519.65 213.1,519.65 213.1,521.6" fill="#fff" stroke="#000" stroke-width="1.05" stroke-linejoin="miter"/>
<polygon points="107.7,517.9 112.6,512.1 112.6,514.3 124.7,514.3 124.7,512.1 129.6,517.9 124.7,523.7 124.7,521.5 112.6,521.5 112.6,523.7" fill="#fff" stroke="#000" stroke-width="1.05" stroke-linejoin="miter"/>
<text x="104" y="519.81" text-anchor="end" font-size="5.3" fill="#111">83 AF</text>
<rect x="130.3" y="530.3" width="78.2" height="16.7" fill="#fff" stroke="#1c1c1c" stroke-width="1.2"/>
<line x1="195.2" y1="530.3" x2="195.2" y2="547" stroke="#1c1c1c" stroke-width="1.1"/>
<text x="169" y="541.31" text-anchor="middle" font-size="5.3" fill="#111">SDIO / MMC</text>
<text transform="translate(201.4,538.9) rotate(-90)" x="0" y="1.91" text-anchor="middle" font-size="5.3" fill="#111">FIFO</text>
<polygon points="208.5,538 213.1,534.6 213.1,536.55 222.3,536.55 222.3,534.6 226.9,538 222.3,541.4 222.3,539.45 213.1,539.45 213.1,541.4" fill="#fff" stroke="#000" stroke-width="1.05" stroke-linejoin="miter"/>
<polygon points="107.7,537.7 112.6,531.9 112.6,534.1 124.7,534.1 124.7,531.9 129.6,537.7 124.7,543.5 124.7,541.3 112.6,541.3 112.6,543.5" fill="#fff" stroke="#000" stroke-width="1.05" stroke-linejoin="miter"/>
<text x="102.8" y="535.91" text-anchor="end" font-size="5.3" fill="#111">D[7:0]</text>
<text x="102.8" y="542.61" text-anchor="end" font-size="5.3" fill="#111">CMD, CK as AF</text>
<polyline points="100.8,530.4 104.8,530.4 104.8,546 100.8,546" fill="none" stroke="#111" stroke-width="1.1" stroke-linejoin="miter"/>
<rect x="130.3" y="551.8" width="78.2" height="16.1" fill="#fff" stroke="#1c1c1c" stroke-width="1.2"/>
<text x="169" y="562.21" text-anchor="middle" font-size="5.3" fill="#111">TIM1 / PWM</text>
<text x="204" y="561.41" text-anchor="end" font-size="5.3" fill="#111">16b</text>
<polygon points="208.5,560.5 213.1,557.1 213.1,559.05 222.3,559.05 222.3,557.1 226.9,560.5 222.3,563.9 222.3,561.95 213.1,561.95 213.1,563.9" fill="#fff" stroke="#000" stroke-width="1.05" stroke-linejoin="miter"/>
<polygon points="107.7,559.1 112.6,553.3 112.6,555.5 124.7,555.5 124.7,553.3 129.6,559.1 124.7,564.9 124.7,562.7 112.6,562.7 112.6,564.9" fill="#fff" stroke="#000" stroke-width="1.05" stroke-linejoin="miter"/>
<text x="103.6" y="553.41" text-anchor="end" font-size="5.3" fill="#111">3 compl. channels (TIM1_CH[1:3]N),</text>
<text x="103.6" y="560.31" text-anchor="end" font-size="5.3" fill="#111">4 channels (TIM1_CH[1:4]),</text>
<text x="103.6" y="566.91" text-anchor="end" font-size="5.3" fill="#111">ETR, BKIN, BKIN2 as AF</text>
<rect x="129.8" y="595.7" width="78" height="13.5" fill="#fff" stroke="#1c1c1c" stroke-width="1.2"/>
<text x="168.9" y="604.41" text-anchor="middle" font-size="5.3" fill="#111">TIM15</text>
<text x="204" y="602.91" text-anchor="end" font-size="5.3" fill="#111">16b</text>
<polygon points="207.8,602 212.4,598.6 212.4,600.55 222.7,600.55 222.7,598.6 227.3,602 222.7,605.4 222.7,603.45 212.4,603.45 212.4,605.4" fill="#fff" stroke="#000" stroke-width="1.05" stroke-linejoin="miter"/>
<polygon points="107.5,602.3 112.4,596.5 112.4,598.7 124.7,598.7 124.7,596.5 129.6,602.3 124.7,608.1 124.7,605.9 112.4,605.9 112.4,608.1" fill="#fff" stroke="#000" stroke-width="1.05" stroke-linejoin="miter"/>
<text x="103.6" y="601.01" text-anchor="end" font-size="5.3" fill="#111">2 channels,</text>
<text x="103.6" y="606.81" text-anchor="end" font-size="5.3" fill="#111">1 compl. channel, BKIN as AF</text>
<rect x="129.8" y="612.6" width="78" height="13.4" fill="#fff" stroke="#1c1c1c" stroke-width="1.2"/>
<text x="168.9" y="620.91" text-anchor="middle" font-size="5.3" fill="#111">TIM16</text>
<text x="204" y="620.91" text-anchor="end" font-size="5.3" fill="#111">16b</text>
<polygon points="207.8,618.5 212.4,615.1 212.4,617.05 222.7,617.05 222.7,615.1 227.3,618.5 222.7,621.9 222.7,619.95 212.4,619.95 212.4,621.9" fill="#fff" stroke="#000" stroke-width="1.05" stroke-linejoin="miter"/>
<polygon points="107.5,618.6 112.4,612.8 112.4,615 124.7,615 124.7,612.8 129.6,618.6 124.7,624.4 124.7,622.2 112.4,622.2 112.4,624.4" fill="#fff" stroke="#000" stroke-width="1.05" stroke-linejoin="miter"/>
<text x="103.6" y="616.61" text-anchor="end" font-size="5.3" fill="#111">1 channel,</text>
<text x="103.6" y="623.71" text-anchor="end" font-size="5.3" fill="#111">1 compl. channel, BKIN as AF</text>
<rect x="129.8" y="645.8" width="78" height="16.7" fill="#fff" stroke="#1c1c1c" stroke-width="1.2"/>
<text x="168.9" y="654.31" text-anchor="middle" font-size="5.3" fill="#111">USART1</text>
<text x="132" y="651.61" text-anchor="start" font-size="5.3" fill="#111">smcard</text>
<text x="132" y="659.41" text-anchor="start" font-size="5.3" fill="#111">irDA</text>
<polygon points="207.8,653 212.4,649.6 212.4,651.55 222.7,651.55 222.7,649.6 227.3,653 222.7,656.4 222.7,654.45 212.4,654.45 212.4,656.4" fill="#fff" stroke="#000" stroke-width="1.05" stroke-linejoin="miter"/>
<polygon points="107.5,654.8 112.4,649 112.4,651.2 124.7,651.2 124.7,649 129.6,654.8 124.7,660.6 124.7,658.4 112.4,658.4 112.4,660.6" fill="#fff" stroke="#000" stroke-width="1.05" stroke-linejoin="miter"/>
<text x="103.6" y="653.01" text-anchor="end" font-size="5.3" fill="#111">RX, TX, CK,CTS,</text>
<text x="103.6" y="660.61" text-anchor="end" font-size="5.3" fill="#111">RTS as AF</text>
<rect x="129.8" y="665.4" width="78" height="12.4" fill="#fff" stroke="#1c1c1c" stroke-width="1.2"/>
<text x="168.9" y="673.61" text-anchor="middle" font-size="5.3" fill="#111">SPI1</text>
<polygon points="207.8,672 212.4,668.6 212.4,670.55 222.7,670.55 222.7,668.6 227.3,672 222.7,675.4 222.7,673.45 212.4,673.45 212.4,675.4" fill="#fff" stroke="#000" stroke-width="1.05" stroke-linejoin="miter"/>
<polygon points="107.5,670.6 112.4,664.8 112.4,667 124.7,667 124.7,664.8 129.6,670.6 124.7,676.4 124.7,674.2 112.4,674.2 112.4,676.4" fill="#fff" stroke="#000" stroke-width="1.05" stroke-linejoin="miter"/>
<text x="103.6" y="670.31" text-anchor="end" font-size="5.3" fill="#111">MOSI, MISO,</text>
<text x="103.6" y="676.21" text-anchor="end" font-size="5.3" fill="#111">SCK, NSS as AF</text>
<rect x="129.8" y="680.7" width="78" height="11.7" fill="#fff" stroke="#1c1c1c" stroke-width="1.2"/>
<text x="168.9" y="688.11" text-anchor="middle" font-size="5.3" fill="#111">SAI1</text>
<polygon points="207.8,686.5 212.4,683.1 212.4,685.05 222.7,685.05 222.7,683.1 227.3,686.5 222.7,689.9 222.7,687.95 212.4,687.95 212.4,689.9" fill="#fff" stroke="#000" stroke-width="1.05" stroke-linejoin="miter"/>
<polygon points="107.5,685.8 112.4,680 112.4,682.2 124.7,682.2 124.7,680 129.6,685.8 124.7,691.6 124.7,689.4 112.4,689.4 112.4,691.6" fill="#fff" stroke="#000" stroke-width="1.05" stroke-linejoin="miter"/>
<text x="104.4" y="685.51" text-anchor="end" font-size="5.3" fill="#111">CLK_A, SD_A, FS_A, SCK_A, EXTCLK</text>
<text x="104.4" y="691.61" text-anchor="end" font-size="5.3" fill="#111">MCLK_B, SD_B, FS_B, SCK_B as AF</text>
<text x="129.1" y="728.11" text-anchor="start" font-size="5.3" fill="#111">@VDDA</text>
<rect x="128" y="729.1" width="83.6" height="32.6" fill="#dcdcdc" stroke="#1c1c1c" stroke-width="1.3"/>
<rect x="130.7" y="731.8" width="78.2" height="11.9" fill="#fff" stroke="#1c1c1c" stroke-width="1.3"/>
<text x="168.9" y="739.51" text-anchor="middle" font-size="5.3" fill="#111">COMP1</text>
<rect x="130.7" y="746.6" width="78.2" height="12.2" fill="#fff" stroke="#1c1c1c" stroke-width="1.3"/>
<text x="168.9" y="754.51" text-anchor="middle" font-size="5.3" fill="#111">COMP2</text>
<rect x="130.7" y="765.5" width="78.2" height="12.4" fill="#fff" stroke="#1c1c1c" stroke-width="1.2"/>
<text x="168.9" y="773.41" text-anchor="middle" font-size="5.3" fill="#111">FIREWALL</text>
<polygon points="211.6,737.4 216.2,734 216.2,735.95 222.6,735.95 222.6,734 227.2,737.4 222.6,740.8 222.6,738.85 216.2,738.85 216.2,740.8" fill="#fff" stroke="#000" stroke-width="1.05" stroke-linejoin="miter"/>
<polygon points="211.6,752.5 216.2,749.1 216.2,751.05 222.6,751.05 222.6,749.1 227.2,752.5 222.6,755.9 222.6,753.95 216.2,753.95 216.2,755.9" fill="#fff" stroke="#000" stroke-width="1.05" stroke-linejoin="miter"/>
<polygon points="208.9,771.3 213.5,767.9 213.5,769.85 222.6,769.85 222.6,767.9 227.2,771.3 222.6,774.7 222.6,772.75 213.5,772.75 213.5,774.7" fill="#fff" stroke="#000" stroke-width="1.05" stroke-linejoin="miter"/>
<polygon points="107.5,737.4 112.4,731.6 112.4,733.8 124.7,733.8 124.7,731.6 129.6,737.4 124.7,743.2 124.7,741 112.4,741 112.4,743.2" fill="#fff" stroke="#000" stroke-width="1.05" stroke-linejoin="miter"/>
<polygon points="107.5,752.7 112.4,746.9 112.4,749.1 124.7,749.1 124.7,746.9 129.6,752.7 124.7,758.5 124.7,756.3 112.4,756.3 112.4,758.5" fill="#fff" stroke="#000" stroke-width="1.05" stroke-linejoin="miter"/>
<text x="104" y="738.91" text-anchor="end" font-size="5.3" fill="#111">INP, INM, OUT</text>
<text x="104" y="753.91" text-anchor="end" font-size="5.3" fill="#111">INP, INM, OUT</text>
<rect x="130" y="231" width="77.7" height="16.7" fill="#fff" stroke="#1c1c1c" stroke-width="1.2"/>
<text x="168.8" y="241.21" text-anchor="middle" font-size="5.3" fill="#111">Touch sensing controller</text>
<polygon points="107,239.8 111.9,234 111.9,236.2 124.6,236.2 124.6,234 129.5,239.8 124.6,245.6 124.6,243.4 111.9,243.4 111.9,245.6" fill="#fff" stroke="#000" stroke-width="1.05" stroke-linejoin="miter"/>
<text x="103" y="237.71" text-anchor="end" font-size="5.3" fill="#111">7 Groups of</text>
<text x="103" y="244.91" text-anchor="end" font-size="5.3" fill="#111">3 channels max as AF</text>
<rect x="130" y="250" width="78" height="16.4" fill="#fff" stroke="#1c1c1c" stroke-width="1.2"/>
<text x="165" y="261.91" text-anchor="middle" font-size="5.3" fill="#111">GPIO PORT A</text>
<polygon points="107,258.3 111.9,252.5 111.9,254.7 124.6,254.7 124.6,252.5 129.5,258.3 124.6,264.1 124.6,261.9 111.9,261.9 111.9,264.1" fill="#fff" stroke="#000" stroke-width="1.05" stroke-linejoin="miter"/>
<polygon points="209,260.6 214.8,255.8 214.8,257.9 294,257.9 294,255.8 299.8,260.6 294,265.4 294,263.3 214.8,263.3 214.8,265.4" fill="#fff" stroke="#000" stroke-width="1.05" stroke-linejoin="miter"/>
<text x="102.2" y="260.81" text-anchor="end" font-size="5.3" fill="#111">PA[15:0]</text>
<rect x="130" y="268.9" width="78" height="16.4" fill="#fff" stroke="#1c1c1c" stroke-width="1.2"/>
<text x="165" y="279.91" text-anchor="middle" font-size="5.3" fill="#111">GPIO PORT B</text>
<polygon points="107,277 111.9,271.2 111.9,273.4 124.6,273.4 124.6,271.2 129.5,277 124.6,282.8 124.6,280.6 111.9,280.6 111.9,282.8" fill="#fff" stroke="#000" stroke-width="1.05" stroke-linejoin="miter"/>
<polygon points="209,278.5 214.8,273.7 214.8,275.8 294,275.8 294,273.7 299.8,278.5 294,283.3 294,281.2 214.8,281.2 214.8,283.3" fill="#fff" stroke="#000" stroke-width="1.05" stroke-linejoin="miter"/>
<text x="102.2" y="279.51" text-anchor="end" font-size="5.3" fill="#111">PB[15:0]</text>
<rect x="130" y="288" width="78" height="15.8" fill="#fff" stroke="#1c1c1c" stroke-width="1.2"/>
<text x="165" y="297.81" text-anchor="middle" font-size="5.3" fill="#111">GPIO PORT C</text>
<polygon points="107,295.8 111.9,290 111.9,292.2 124.6,292.2 124.6,290 129.5,295.8 124.6,301.6 124.6,299.4 111.9,299.4 111.9,301.6" fill="#fff" stroke="#000" stroke-width="1.05" stroke-linejoin="miter"/>
<polygon points="209,296.4 214.8,291.6 214.8,293.7 294,293.7 294,291.6 299.8,296.4 294,301.2 294,299.1 214.8,299.1 214.8,301.2" fill="#fff" stroke="#000" stroke-width="1.05" stroke-linejoin="miter"/>
<text x="102.2" y="298.31" text-anchor="end" font-size="5.3" fill="#111">PC[15:0]</text>
<rect x="130" y="306.5" width="78" height="15.9" fill="#fff" stroke="#1c1c1c" stroke-width="1.2"/>
<text x="165" y="316.41" text-anchor="middle" font-size="5.3" fill="#111">GPIO PORT D</text>
<polygon points="107,314.5 111.9,308.7 111.9,310.9 124.6,310.9 124.6,308.7 129.5,314.5 124.6,320.3 124.6,318.1 111.9,318.1 111.9,320.3" fill="#fff" stroke="#000" stroke-width="1.05" stroke-linejoin="miter"/>
<polygon points="209,314.5 214.8,309.7 214.8,311.8 294,311.8 294,309.7 299.8,314.5 294,319.3 294,317.2 214.8,317.2 214.8,319.3" fill="#fff" stroke="#000" stroke-width="1.05" stroke-linejoin="miter"/>
<text x="102.2" y="317.01" text-anchor="end" font-size="5.3" fill="#111">PD[15:0]</text>
<rect x="130" y="325.7" width="78" height="15.9" fill="#fff" stroke="#1c1c1c" stroke-width="1.2"/>
<text x="165" y="335.61" text-anchor="middle" font-size="5.3" fill="#111">GPIO PORT E</text>
<polygon points="107,333.3 111.9,327.5 111.9,329.7 124.6,329.7 124.6,327.5 129.5,333.3 124.6,339.1 124.6,336.9 111.9,336.9 111.9,339.1" fill="#fff" stroke="#000" stroke-width="1.05" stroke-linejoin="miter"/>
<polygon points="209,332 214.8,327.2 214.8,329.3 294,329.3 294,327.2 299.8,332 294,336.8 294,334.7 214.8,334.7 214.8,336.8" fill="#fff" stroke="#000" stroke-width="1.05" stroke-linejoin="miter"/>
<text x="102.2" y="335.81" text-anchor="end" font-size="5.3" fill="#111">PE[15:0]</text>
<rect x="130" y="348" width="78" height="16" fill="#fff" stroke="#1c1c1c" stroke-width="1.2"/>
<text x="165" y="358.41" text-anchor="middle" font-size="5.3" fill="#111">GPIO PORT H</text>
<polygon points="107,355.6 111.9,349.8 111.9,352 124.6,352 124.6,349.8 129.5,355.6 124.6,361.4 124.6,359.2 111.9,359.2 111.9,361.4" fill="#fff" stroke="#000" stroke-width="1.05" stroke-linejoin="miter"/>
<polygon points="209,352.4 214.8,347.6 214.8,349.7 294,349.7 294,347.6 299.8,352.4 294,357.2 294,355.1 214.8,355.1 214.8,357.2" fill="#fff" stroke="#000" stroke-width="1.05" stroke-linejoin="miter"/>
<text x="103" y="353.91" text-anchor="end" font-size="5.3" fill="#111">PH[1:0],</text>
<text x="103" y="360.71" text-anchor="end" font-size="5.3" fill="#111">PH[3]</text>
<rect x="245.8" y="230.9" width="4" height="1" fill="#888"/>
<rect x="140.8" y="168.5" width="1.4" height="1.5" fill="#555"/>
<rect x="475.2" y="165.2" width="1.4" height="1.4" fill="#444"/>
<rect x="343.3" y="241.9" width="1.3" height="1.2" fill="#222"/>
<text x="564" y="801.95" text-anchor="start" font-size="8.2" fill="#111">MS39204V1</text>
</svg></body></html>
